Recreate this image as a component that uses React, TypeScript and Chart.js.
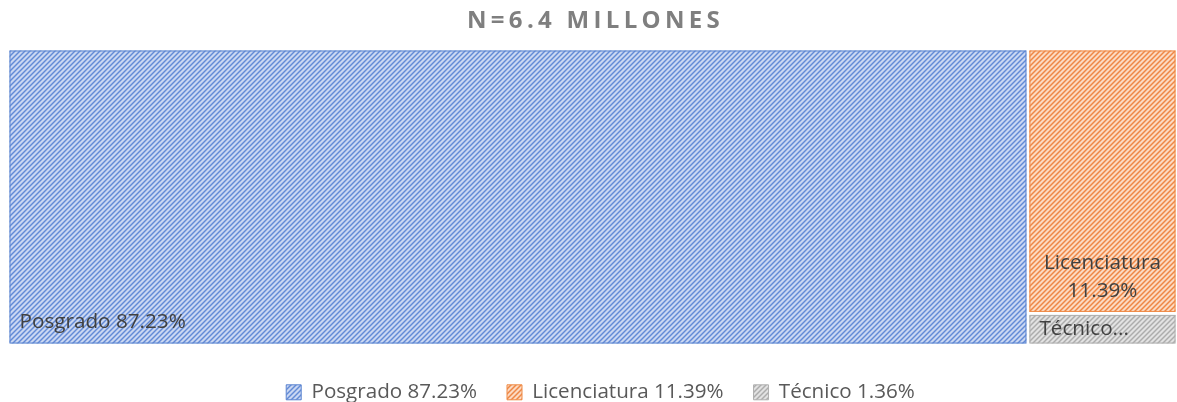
import React, { useEffect, useRef } from 'react';
import { Chart, registerables } from 'chart.js';

Chart.register(...registerables);

const titleText = 'N=6.4 MILLONES';
const categories = ['Posgrado', 'Licenciatura', 'Técnico'];
const shares = [87.23, 11.39, 1.36];
const legendLabels = ['Posgrado 87.23%', 'Licenciatura 11.39%', 'Técnico 1.36%'];
const tileLabels = [['Posgrado 87.23%'], ['Licenciatura', '11.39%'], ['Técnico...']];

const palettes = [
  { dark: '#628ad6', mid: '#95b0e4', light: '#cad7f2', edge: '#5b84d0' },
  { dark: '#ef8644', mid: '#f4ae80', light: '#fcdac2', edge: '#ef8a45' },
  { dark: '#acacac', mid: '#c6c6c6', light: '#e2e2e2', edge: '#b0b0b0' },
];

const FONT = "'Open Sans', 'Noto Sans', sans-serif";

function makePattern(p: { dark: string; mid: string; light: string }) {
  const c = document.createElement('canvas');
  c.width = 5;
  c.height = 5;
  const t = c.getContext('2d')!;
  for (let i = 0; i < 5; i++) {
    for (let j = 0; j < 5; j++) {
      const k = (i + j) % 5;
      t.fillStyle = k === 0 ? p.dark : k === 1 || k === 4 ? p.mid : p.light;
      t.fillRect(i, j, 1, 1);
    }
  }
  const ctx = document.createElement('canvas').getContext('2d')!;
  return ctx.createPattern(c, 'repeat')!;
}

export default function App() {
  const ref = useRef<HTMLCanvasElement>(null);

  useEffect(() => {
    const canvas = ref.current!;
    const patterns = palettes.map((p) => makePattern(p));

    const treemapPlugin = {
      id: 'treemapTiles',
      beforeLayout(chart: any) {
        const lg = chart.legend;
        if (lg && !lg.__fixedFit) {
          const orig = lg.fit;
          lg.fit = function () {
            orig.call(this);
            this.height = 41;
          };
          lg.__fixedFit = true;
        }
      },
      afterLayout(chart: any) {
        if (chart.legend) {
          chart.legend.top += 7;
          chart.legend.bottom = chart.height;
          chart.legend.left += 8;
          chart.legend.right += 8;
        }
      },
      beforeDatasetsDraw(chart: any) {
        const ctx = chart.ctx as CanvasRenderingContext2D;
        const xs = chart.scales.x;
        const ys = chart.scales.y;
        const total = shares.reduce((a, b) => a + b, 0);
        const firstW = (shares[0] / total) * 100;
        const rects: { x0: number; x1: number; y0: number; y1: number }[] = [
          { x0: 0, x1: firstW, y0: 0, y1: 100 },
        ];
        const rest = total - shares[0];
        let yTop = 100;
        for (let i = 1; i < shares.length; i++) {
          const h = (shares[i] / rest) * 100;
          rects.push({ x0: firstW, x1: 100, y0: yTop - h, y1: yTop });
          yTop -= h;
        }
        const gap = 1.5;
        rects.forEach((r, i) => {
          const left = xs.getPixelForValue(r.x0) + gap;
          const right = xs.getPixelForValue(r.x1) - gap;
          const top = ys.getPixelForValue(r.y1) + gap;
          const bottom = ys.getPixelForValue(r.y0) - gap;
          ctx.save();
          ctx.fillStyle = patterns[i];
          ctx.fillRect(left, top, right - left, bottom - top);
          ctx.strokeStyle = palettes[i].edge;
          ctx.lineWidth = 1;
          ctx.strokeRect(left + 0.5, top + 0.5, right - left - 1, bottom - top - 1);
          ctx.fillStyle = '#404040';
          ctx.font = `20.7px ${FONT}`;
          ctx.textBaseline = 'middle';
          const lines = tileLabels[i];
          if (i === 0) {
            ctx.textAlign = 'left';
            ctx.fillText(lines[0], left + 10, bottom - 21);
          } else if (lines.length > 1) {
            ctx.textAlign = 'center';
            const cx = (left + right) / 2;
            lines.forEach((ln, k) => {
              ctx.fillText(ln, cx, bottom - 21 - (lines.length - 1 - k) * 28);
            });
          } else {
            ctx.textAlign = 'left';
            ctx.fillText(lines[0], left + 10, (top + bottom) / 2);
          }
          ctx.restore();
        });
      },
      afterDraw(chart: any) {
        const ctx = chart.ctx as CanvasRenderingContext2D;
        const a = chart.chartArea;
        ctx.save();
        ctx.font = `bold 24px ${FONT}`;
        (ctx as any).letterSpacing = '4.3px';
        ctx.fillStyle = '#7f7f7f';
        ctx.textAlign = 'center';
        ctx.textBaseline = 'middle';
        ctx.fillText(titleText, (a.left + a.right) / 2 + 3, 21);
        ctx.restore();
      },
    };

    const chart = new Chart(canvas, {
      type: 'scatter',
      data: {
        datasets: categories.map((c, i) => ({
          label: legendLabels[i],
          data: [],
          backgroundColor: patterns[i] as any,
          borderColor: palettes[i].edge,
        })),
      },
      options: {
        animation: false,
        responsive: false,
        events: [],
        layout: { padding: { left: 8, right: 0, top: 49, bottom: 16 } },
        scales: {
          x: { type: 'linear', min: 0, max: 100, display: false },
          y: { type: 'linear', min: 0, max: 100, display: false },
        },
        plugins: {
          title: { display: false },
          tooltip: { enabled: false },
          legend: {
            display: true,
            position: 'bottom',
            labels: {
              boxWidth: 15,
              boxHeight: 15,
              padding: 30,
              color: '#595959',
              font: { family: FONT, size: 20.6 },
              generateLabels: () =>
                legendLabels.map((t, i) => ({
                  text: t,
                  fillStyle: patterns[i] as any,
                  strokeStyle: palettes[i].edge,
                  lineWidth: 1,
                  hidden: false,
                  datasetIndex: i,
                  fontColor: '#595959',
                })),
            },
          },
        },
      },
      plugins: [treemapPlugin],
    });

    return () => chart.destroy();
  }, []);

  return (
    <div style={{ position: 'absolute', left: 0, top: 0, width: 1177, height: 402, background: '#fff' }}>
      <canvas ref={ref} width={1177} height={402} style={{ display: 'block' }} />
    </div>
  );
}
